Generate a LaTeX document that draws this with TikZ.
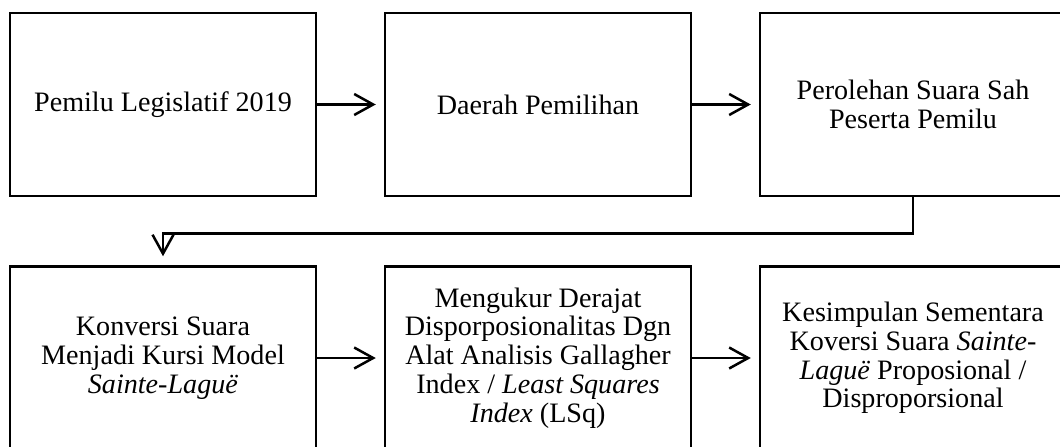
\documentclass[tikz,border=0pt]{standalone}
\usepackage{fontspec}
\setmainfont{Liberation Serif}
\usetikzlibrary{arrows.meta, positioning}

\begin{document}
\begin{tikzpicture} [node distance = 7.5cm , on grid, auto,
    box/.style = {draw, line width=0.5mm, minimum width=6.12cm, minimum height=3.66cm,
                  inner sep=0pt, align=center, font=\fontsize{16}{16.4}\selectfont},
    flow/.style = {-{Straight Barb[length=3.8mm, width=4.2mm]}, line width=0.5mm, shorten >=1.6mm}]

    \useasboundingbox (0,0) rectangle (21.2,-8.92);

    \node (pemilu) [box] at (3.26,-2.09) {Pemilu Legislatif 2019};
    \node (dapil) [box, right = of pemilu] {Daerah Pemilihan};
    \node (suara) [box, right = of dapil] {Perolehan Suara Sah\\Peserta Pemilu};
    \node (konversi) [box, below = 5.07cm of pemilu] {Konversi Suara\\Menjadi Kursi Model\\\textit{Sainte-Laguë}};
    \node (ukur) [box, right = of konversi] {Mengukur Derajat\\Disporposionalitas Dgn\\Alat Analisis Gallagher\\Index / \textit{Least Squares}\\\textit{Index} (LSq)};
    \node (simpul) [box, right = of ukur] {Kesimpulan Sementara\\Koversi Suara \textit{Sainte-}\\\textit{Laguë} Proposional /\\Disproporsional};

    \path [flow] (pemilu) edge (dapil);
    \path [flow] (dapil) edge (suara);
    \draw [flow, shorten >=1.8mm] (suara.south) -- ++(0,-0.72) -| (konversi.north);
    \path [flow] (konversi) edge (ukur);
    \path [flow] (ukur) edge (simpul);

\end{tikzpicture}
\end{document}
